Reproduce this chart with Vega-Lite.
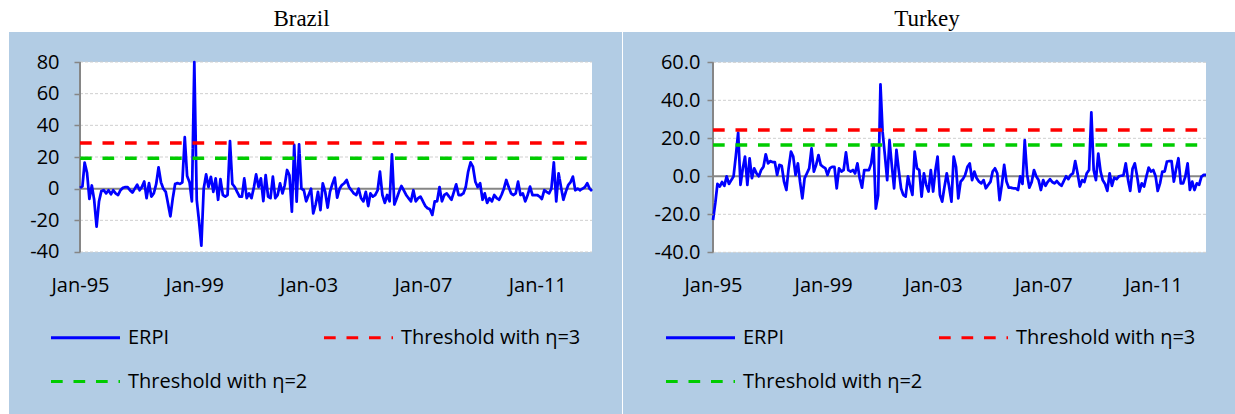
{
"$schema":"https://vega.github.io/schema/vega-lite/v6.json",
"background":"#FFFFFF",
"padding":{"left":9,"top":8,"right":0,"bottom":0},
"spacing":1,
"config":{"view":{"fill":"#B2CCE4","stroke":null},"font":"Open Sans","locale":{"number":{"decimal":".","thousands":",","grouping":[3],"currency":["$",""],"minus":"-"}}},
"resolve":{"scale":{"x":"independent","y":"independent","color":"independent","strokeDash":"independent"},"legend":{"color":"independent","strokeDash":"independent"}},
"datasets":{
"brazil":[
{"date":"1995-01","series":"ERPI","value":0.5},{"date":"1995-02","series":"ERPI","value":1.5},{"date":"1995-03","series":"ERPI","value":16.5},{"date":"1995-04","series":"ERPI","value":10},{"date":"1995-05","series":"ERPI","value":-6.5},{"date":"1995-06","series":"ERPI","value":2},{"date":"1995-07","series":"ERPI","value":-7},{"date":"1995-08","series":"ERPI","value":-24},{"date":"1995-09","series":"ERPI","value":-8},{"date":"1995-10","series":"ERPI","value":-1.5},{"date":"1995-11","series":"ERPI","value":-1},{"date":"1995-12","series":"ERPI","value":-3},
{"date":"1996-01","series":"ERPI","value":-1},{"date":"1996-02","series":"ERPI","value":-3.5},{"date":"1996-03","series":"ERPI","value":-1},{"date":"1996-04","series":"ERPI","value":-3},{"date":"1996-05","series":"ERPI","value":-4},{"date":"1996-06","series":"ERPI","value":-1},{"date":"1996-07","series":"ERPI","value":0.5},{"date":"1996-08","series":"ERPI","value":1},{"date":"1996-09","series":"ERPI","value":1},{"date":"1996-10","series":"ERPI","value":-1},{"date":"1996-11","series":"ERPI","value":-2.5},{"date":"1996-12","series":"ERPI","value":0},
{"date":"1997-01","series":"ERPI","value":2.5},{"date":"1997-02","series":"ERPI","value":-1},{"date":"1997-03","series":"ERPI","value":1},{"date":"1997-04","series":"ERPI","value":4.5},{"date":"1997-05","series":"ERPI","value":-6},{"date":"1997-06","series":"ERPI","value":3.5},{"date":"1997-07","series":"ERPI","value":-5},{"date":"1997-08","series":"ERPI","value":-3},{"date":"1997-09","series":"ERPI","value":3},{"date":"1997-10","series":"ERPI","value":13.5},{"date":"1997-11","series":"ERPI","value":4},{"date":"1997-12","series":"ERPI","value":0},
{"date":"1998-01","series":"ERPI","value":-2},{"date":"1998-02","series":"ERPI","value":-10},{"date":"1998-03","series":"ERPI","value":-17.5},{"date":"1998-04","series":"ERPI","value":-6},{"date":"1998-05","series":"ERPI","value":3},{"date":"1998-06","series":"ERPI","value":3.5},{"date":"1998-07","series":"ERPI","value":3},{"date":"1998-08","series":"ERPI","value":4},{"date":"1998-09","series":"ERPI","value":32.5},{"date":"1998-10","series":"ERPI","value":8},{"date":"1998-11","series":"ERPI","value":4},{"date":"1998-12","series":"ERPI","value":-8},
{"date":"1999-01","series":"ERPI","value":80},{"date":"1999-02","series":"ERPI","value":-7},{"date":"1999-03","series":"ERPI","value":-20},{"date":"1999-04","series":"ERPI","value":-36},{"date":"1999-05","series":"ERPI","value":0},{"date":"1999-06","series":"ERPI","value":9},{"date":"1999-07","series":"ERPI","value":1},{"date":"1999-08","series":"ERPI","value":7.5},{"date":"1999-09","series":"ERPI","value":-2},{"date":"1999-10","series":"ERPI","value":6.5},{"date":"1999-11","series":"ERPI","value":-7},{"date":"1999-12","series":"ERPI","value":6},
{"date":"2000-01","series":"ERPI","value":-4},{"date":"2000-02","series":"ERPI","value":-5},{"date":"2000-03","series":"ERPI","value":-4},{"date":"2000-04","series":"ERPI","value":30},{"date":"2000-05","series":"ERPI","value":3},{"date":"2000-06","series":"ERPI","value":1},{"date":"2000-07","series":"ERPI","value":-2},{"date":"2000-08","series":"ERPI","value":-5},{"date":"2000-09","series":"ERPI","value":-5},{"date":"2000-10","series":"ERPI","value":6.5},{"date":"2000-11","series":"ERPI","value":-6},{"date":"2000-12","series":"ERPI","value":-3},
{"date":"2001-01","series":"ERPI","value":-6},{"date":"2001-02","series":"ERPI","value":1},{"date":"2001-03","series":"ERPI","value":9},{"date":"2001-04","series":"ERPI","value":1},{"date":"2001-05","series":"ERPI","value":6.5},{"date":"2001-06","series":"ERPI","value":-7.8},{"date":"2001-07","series":"ERPI","value":8.6},{"date":"2001-08","series":"ERPI","value":-5},{"date":"2001-09","series":"ERPI","value":-6},{"date":"2001-10","series":"ERPI","value":7.6},{"date":"2001-11","series":"ERPI","value":-6},{"date":"2001-12","series":"ERPI","value":-4},
{"date":"2002-01","series":"ERPI","value":3.4},{"date":"2002-02","series":"ERPI","value":-3},{"date":"2002-03","series":"ERPI","value":2},{"date":"2002-04","series":"ERPI","value":11.8},{"date":"2002-05","series":"ERPI","value":8.5},{"date":"2002-06","series":"ERPI","value":-14.5},{"date":"2002-07","series":"ERPI","value":27.6},{"date":"2002-08","series":"ERPI","value":-8.2},{"date":"2002-09","series":"ERPI","value":28},{"date":"2002-10","series":"ERPI","value":0},{"date":"2002-11","series":"ERPI","value":-1},{"date":"2002-12","series":"ERPI","value":-8},
{"date":"2003-01","series":"ERPI","value":-4},{"date":"2003-02","series":"ERPI","value":0},{"date":"2003-03","series":"ERPI","value":-15.6},{"date":"2003-04","series":"ERPI","value":-10},{"date":"2003-05","series":"ERPI","value":-2},{"date":"2003-06","series":"ERPI","value":-13.5},{"date":"2003-07","series":"ERPI","value":3.4},{"date":"2003-08","series":"ERPI","value":-2},{"date":"2003-09","series":"ERPI","value":-12},{"date":"2003-10","series":"ERPI","value":-2},{"date":"2003-11","series":"ERPI","value":3},{"date":"2003-12","series":"ERPI","value":7},
{"date":"2004-01","series":"ERPI","value":-5.7},{"date":"2004-02","series":"ERPI","value":0},{"date":"2004-03","series":"ERPI","value":2.3},{"date":"2004-04","series":"ERPI","value":3.4},{"date":"2004-05","series":"ERPI","value":5.5},{"date":"2004-06","series":"ERPI","value":1},{"date":"2004-07","series":"ERPI","value":-1},{"date":"2004-08","series":"ERPI","value":-3},{"date":"2004-09","series":"ERPI","value":-4},{"date":"2004-10","series":"ERPI","value":0},{"date":"2004-11","series":"ERPI","value":-6},{"date":"2004-12","series":"ERPI","value":-8},
{"date":"2005-01","series":"ERPI","value":-2},{"date":"2005-02","series":"ERPI","value":-11},{"date":"2005-03","series":"ERPI","value":-3},{"date":"2005-04","series":"ERPI","value":-5},{"date":"2005-05","series":"ERPI","value":-4},{"date":"2005-06","series":"ERPI","value":-1},{"date":"2005-07","series":"ERPI","value":10.7},{"date":"2005-08","series":"ERPI","value":-4},{"date":"2005-09","series":"ERPI","value":-9},{"date":"2005-10","series":"ERPI","value":-4},{"date":"2005-11","series":"ERPI","value":-8},{"date":"2005-12","series":"ERPI","value":21.7},
{"date":"2006-01","series":"ERPI","value":-10},{"date":"2006-02","series":"ERPI","value":-6},{"date":"2006-03","series":"ERPI","value":-2},{"date":"2006-04","series":"ERPI","value":1.7},{"date":"2006-05","series":"ERPI","value":-1},{"date":"2006-06","series":"ERPI","value":-4},{"date":"2006-07","series":"ERPI","value":-6},{"date":"2006-08","series":"ERPI","value":-8},{"date":"2006-09","series":"ERPI","value":-1},{"date":"2006-10","series":"ERPI","value":-8},{"date":"2006-11","series":"ERPI","value":-6},{"date":"2006-12","series":"ERPI","value":-5},
{"date":"2007-01","series":"ERPI","value":-8},{"date":"2007-02","series":"ERPI","value":-11},{"date":"2007-03","series":"ERPI","value":-12.4},{"date":"2007-04","series":"ERPI","value":-13},{"date":"2007-05","series":"ERPI","value":-16.6},{"date":"2007-06","series":"ERPI","value":-8},{"date":"2007-07","series":"ERPI","value":-8},{"date":"2007-08","series":"ERPI","value":1},{"date":"2007-09","series":"ERPI","value":-8},{"date":"2007-10","series":"ERPI","value":-4},{"date":"2007-11","series":"ERPI","value":-3},{"date":"2007-12","series":"ERPI","value":-5},
{"date":"2008-01","series":"ERPI","value":-7},{"date":"2008-02","series":"ERPI","value":-2},{"date":"2008-03","series":"ERPI","value":2.7},{"date":"2008-04","series":"ERPI","value":-4},{"date":"2008-05","series":"ERPI","value":-4},{"date":"2008-06","series":"ERPI","value":-3},{"date":"2008-07","series":"ERPI","value":1},{"date":"2008-08","series":"ERPI","value":10.7},{"date":"2008-09","series":"ERPI","value":16.6},{"date":"2008-10","series":"ERPI","value":13.9},{"date":"2008-11","series":"ERPI","value":4.4},{"date":"2008-12","series":"ERPI","value":1},
{"date":"2009-01","series":"ERPI","value":3.4},{"date":"2009-02","series":"ERPI","value":-7},{"date":"2009-03","series":"ERPI","value":-3},{"date":"2009-04","series":"ERPI","value":-9},{"date":"2009-05","series":"ERPI","value":-6},{"date":"2009-06","series":"ERPI","value":-8},{"date":"2009-07","series":"ERPI","value":-4},{"date":"2009-08","series":"ERPI","value":-6},{"date":"2009-09","series":"ERPI","value":-7},{"date":"2009-10","series":"ERPI","value":-4},{"date":"2009-11","series":"ERPI","value":0},{"date":"2009-12","series":"ERPI","value":5.5},
{"date":"2010-01","series":"ERPI","value":1},{"date":"2010-02","series":"ERPI","value":-3},{"date":"2010-03","series":"ERPI","value":-4},{"date":"2010-04","series":"ERPI","value":-3},{"date":"2010-05","series":"ERPI","value":4.4},{"date":"2010-06","series":"ERPI","value":-4},{"date":"2010-07","series":"ERPI","value":-3},{"date":"2010-08","series":"ERPI","value":-8},{"date":"2010-09","series":"ERPI","value":-4},{"date":"2010-10","series":"ERPI","value":1.3},{"date":"2010-11","series":"ERPI","value":-4},{"date":"2010-12","series":"ERPI","value":-4},
{"date":"2011-01","series":"ERPI","value":-4},{"date":"2011-02","series":"ERPI","value":-5},{"date":"2011-03","series":"ERPI","value":-6.5},{"date":"2011-04","series":"ERPI","value":-1},{"date":"2011-05","series":"ERPI","value":-2},{"date":"2011-06","series":"ERPI","value":-3},{"date":"2011-07","series":"ERPI","value":0},{"date":"2011-08","series":"ERPI","value":16.6},{"date":"2011-09","series":"ERPI","value":-8},{"date":"2011-10","series":"ERPI","value":9.7},{"date":"2011-11","series":"ERPI","value":1},{"date":"2011-12","series":"ERPI","value":-7},
{"date":"2012-01","series":"ERPI","value":-2},{"date":"2012-02","series":"ERPI","value":2.3},{"date":"2012-03","series":"ERPI","value":4},{"date":"2012-04","series":"ERPI","value":7.6},{"date":"2012-05","series":"ERPI","value":-1},{"date":"2012-06","series":"ERPI","value":0},{"date":"2012-07","series":"ERPI","value":-1},{"date":"2012-08","series":"ERPI","value":0},{"date":"2012-09","series":"ERPI","value":1},{"date":"2012-10","series":"ERPI","value":3.4},{"date":"2012-11","series":"ERPI","value":0},{"date":"2012-12","series":"ERPI","value":-1.5}
],
"brazil_thr":[
{"date":"1995-01","series":"Threshold with η=3","value":28.8},{"date":"2012-12","series":"Threshold with η=3","value":28.8},
{"date":"1995-01","series":"Threshold with η=2","value":19.2},{"date":"2012-12","series":"Threshold with η=2","value":19.2}
],
"turkey":[
{"date":"1995-01","series":"ERPI","value":-23},{"date":"1995-02","series":"ERPI","value":-14},{"date":"1995-03","series":"ERPI","value":-4},{"date":"1995-04","series":"ERPI","value":-5.4},{"date":"1995-05","series":"ERPI","value":-3},{"date":"1995-06","series":"ERPI","value":-5},{"date":"1995-07","series":"ERPI","value":0},{"date":"1995-08","series":"ERPI","value":-4},{"date":"1995-09","series":"ERPI","value":-2},{"date":"1995-10","series":"ERPI","value":0},{"date":"1995-11","series":"ERPI","value":11},{"date":"1995-12","series":"ERPI","value":23},
{"date":"1996-01","series":"ERPI","value":-4.5},{"date":"1996-02","series":"ERPI","value":4.2},{"date":"1996-03","series":"ERPI","value":10.4},{"date":"1996-04","series":"ERPI","value":-4.5},{"date":"1996-05","series":"ERPI","value":9.5},{"date":"1996-06","series":"ERPI","value":-1},{"date":"1996-07","series":"ERPI","value":4.2},{"date":"1996-08","series":"ERPI","value":1.5},{"date":"1996-09","series":"ERPI","value":0},{"date":"1996-10","series":"ERPI","value":3.3},{"date":"1996-11","series":"ERPI","value":5},{"date":"1996-12","series":"ERPI","value":11.6},
{"date":"1997-01","series":"ERPI","value":6.8},{"date":"1997-02","series":"ERPI","value":8},{"date":"1997-03","series":"ERPI","value":7.5},{"date":"1997-04","series":"ERPI","value":7.5},{"date":"1997-05","series":"ERPI","value":0.7},{"date":"1997-06","series":"ERPI","value":6},{"date":"1997-07","series":"ERPI","value":5.5},{"date":"1997-08","series":"ERPI","value":-2.8},{"date":"1997-09","series":"ERPI","value":-7.2},{"date":"1997-10","series":"ERPI","value":4.2},{"date":"1997-11","series":"ERPI","value":13},{"date":"1997-12","series":"ERPI","value":10.4},
{"date":"1998-01","series":"ERPI","value":0.7},{"date":"1998-02","series":"ERPI","value":6.8},{"date":"1998-03","series":"ERPI","value":-2.8},{"date":"1998-04","series":"ERPI","value":-11.6},{"date":"1998-05","series":"ERPI","value":-1},{"date":"1998-06","series":"ERPI","value":1.6},{"date":"1998-07","series":"ERPI","value":4.2},{"date":"1998-08","series":"ERPI","value":14.7},{"date":"1998-09","series":"ERPI","value":2.5},{"date":"1998-10","series":"ERPI","value":6},{"date":"1998-11","series":"ERPI","value":11.2},{"date":"1998-12","series":"ERPI","value":6},
{"date":"1999-01","series":"ERPI","value":5},{"date":"1999-02","series":"ERPI","value":4.2},{"date":"1999-03","series":"ERPI","value":0.7},{"date":"1999-04","series":"ERPI","value":4.2},{"date":"1999-05","series":"ERPI","value":5},{"date":"1999-06","series":"ERPI","value":5},{"date":"1999-07","series":"ERPI","value":-6.3},{"date":"1999-08","series":"ERPI","value":4.2},{"date":"1999-09","series":"ERPI","value":2.5},{"date":"1999-10","series":"ERPI","value":3.3},{"date":"1999-11","series":"ERPI","value":12.6},{"date":"1999-12","series":"ERPI","value":3.3},
{"date":"2000-01","series":"ERPI","value":2.5},{"date":"2000-02","series":"ERPI","value":3.3},{"date":"2000-03","series":"ERPI","value":1.5},{"date":"2000-04","series":"ERPI","value":6.8},{"date":"2000-05","series":"ERPI","value":-1},{"date":"2000-06","series":"ERPI","value":-6},{"date":"2000-07","series":"ERPI","value":3.3},{"date":"2000-08","series":"ERPI","value":3.3},{"date":"2000-09","series":"ERPI","value":3.3},{"date":"2000-10","series":"ERPI","value":6.8},{"date":"2000-11","series":"ERPI","value":16.5},{"date":"2000-12","series":"ERPI","value":-17},
{"date":"2001-01","series":"ERPI","value":-10},{"date":"2001-02","series":"ERPI","value":48.4},{"date":"2001-03","series":"ERPI","value":23.5},{"date":"2001-04","series":"ERPI","value":11},{"date":"2001-05","series":"ERPI","value":-2},{"date":"2001-06","series":"ERPI","value":19},{"date":"2001-07","series":"ERPI","value":6},{"date":"2001-08","series":"ERPI","value":-6.3},{"date":"2001-09","series":"ERPI","value":13.9},{"date":"2001-10","series":"ERPI","value":3.5},{"date":"2001-11","series":"ERPI","value":-6.3},{"date":"2001-12","series":"ERPI","value":-9.8},
{"date":"2002-01","series":"ERPI","value":-10.7},{"date":"2002-02","series":"ERPI","value":0},{"date":"2002-03","series":"ERPI","value":-5},{"date":"2002-04","series":"ERPI","value":-9.8},{"date":"2002-05","series":"ERPI","value":13},{"date":"2002-06","series":"ERPI","value":4.2},{"date":"2002-07","series":"ERPI","value":3.3},{"date":"2002-08","series":"ERPI","value":-10.7},{"date":"2002-09","series":"ERPI","value":1.6},{"date":"2002-10","series":"ERPI","value":-4.5},{"date":"2002-11","series":"ERPI","value":-8},{"date":"2002-12","series":"ERPI","value":3.3},
{"date":"2003-01","series":"ERPI","value":-8},{"date":"2003-02","series":"ERPI","value":3.3},{"date":"2003-03","series":"ERPI","value":10.4},{"date":"2003-04","series":"ERPI","value":-9.8},{"date":"2003-05","series":"ERPI","value":-13.3},{"date":"2003-06","series":"ERPI","value":-5.4},{"date":"2003-07","series":"ERPI","value":1.6},{"date":"2003-08","series":"ERPI","value":-5.4},{"date":"2003-09","series":"ERPI","value":-13.3},{"date":"2003-10","series":"ERPI","value":10.4},{"date":"2003-11","series":"ERPI","value":5},{"date":"2003-12","series":"ERPI","value":-11.6},
{"date":"2004-01","series":"ERPI","value":-2.8},{"date":"2004-02","series":"ERPI","value":-1.4},{"date":"2004-03","series":"ERPI","value":0.7},{"date":"2004-04","series":"ERPI","value":5},{"date":"2004-05","series":"ERPI","value":6.8},{"date":"2004-06","series":"ERPI","value":-2},{"date":"2004-07","series":"ERPI","value":2.5},{"date":"2004-08","series":"ERPI","value":-1},{"date":"2004-09","series":"ERPI","value":-2.8},{"date":"2004-10","series":"ERPI","value":-3.7},{"date":"2004-11","series":"ERPI","value":-2},{"date":"2004-12","series":"ERPI","value":-6.3},
{"date":"2005-01","series":"ERPI","value":-4.5},{"date":"2005-02","series":"ERPI","value":-2.8},{"date":"2005-03","series":"ERPI","value":2.5},{"date":"2005-04","series":"ERPI","value":4.2},{"date":"2005-05","series":"ERPI","value":1.6},{"date":"2005-06","series":"ERPI","value":-12.5},{"date":"2005-07","series":"ERPI","value":-4.5},{"date":"2005-08","series":"ERPI","value":6},{"date":"2005-09","series":"ERPI","value":-2.8},{"date":"2005-10","series":"ERPI","value":-6},{"date":"2005-11","series":"ERPI","value":-6},{"date":"2005-12","series":"ERPI","value":-6.3},
{"date":"2006-01","series":"ERPI","value":-6.3},{"date":"2006-02","series":"ERPI","value":-7.2},{"date":"2006-03","series":"ERPI","value":0},{"date":"2006-04","series":"ERPI","value":-4},{"date":"2006-05","series":"ERPI","value":19},{"date":"2006-06","series":"ERPI","value":1},{"date":"2006-07","series":"ERPI","value":-6},{"date":"2006-08","series":"ERPI","value":-3},{"date":"2006-09","series":"ERPI","value":3.3},{"date":"2006-10","series":"ERPI","value":0},{"date":"2006-11","series":"ERPI","value":-2},{"date":"2006-12","series":"ERPI","value":-7.2},
{"date":"2007-01","series":"ERPI","value":-2},{"date":"2007-02","series":"ERPI","value":-5},{"date":"2007-03","series":"ERPI","value":-3},{"date":"2007-04","series":"ERPI","value":-1.5},{"date":"2007-05","series":"ERPI","value":-3},{"date":"2007-06","series":"ERPI","value":-3.7},{"date":"2007-07","series":"ERPI","value":-2.5},{"date":"2007-08","series":"ERPI","value":-4},{"date":"2007-09","series":"ERPI","value":-5},{"date":"2007-10","series":"ERPI","value":-2.5},{"date":"2007-11","series":"ERPI","value":0},{"date":"2007-12","series":"ERPI","value":-1.5},
{"date":"2008-01","series":"ERPI","value":0.7},{"date":"2008-02","series":"ERPI","value":1.6},{"date":"2008-03","series":"ERPI","value":8},{"date":"2008-04","series":"ERPI","value":1.6},{"date":"2008-05","series":"ERPI","value":-5.4},{"date":"2008-06","series":"ERPI","value":-2},{"date":"2008-07","series":"ERPI","value":-3},{"date":"2008-08","series":"ERPI","value":1.6},{"date":"2008-09","series":"ERPI","value":3.3},{"date":"2008-10","series":"ERPI","value":33.7},{"date":"2008-11","series":"ERPI","value":3.3},{"date":"2008-12","series":"ERPI","value":-2},
{"date":"2009-01","series":"ERPI","value":12},{"date":"2009-02","series":"ERPI","value":2.5},{"date":"2009-03","series":"ERPI","value":-2},{"date":"2009-04","series":"ERPI","value":-4},{"date":"2009-05","series":"ERPI","value":-7.7},{"date":"2009-06","series":"ERPI","value":1.6},{"date":"2009-07","series":"ERPI","value":-5},{"date":"2009-08","series":"ERPI","value":-0.7},{"date":"2009-09","series":"ERPI","value":-1.5},{"date":"2009-10","series":"ERPI","value":0},{"date":"2009-11","series":"ERPI","value":0.3},{"date":"2009-12","series":"ERPI","value":0.5},
{"date":"2010-01","series":"ERPI","value":6.8},{"date":"2010-02","series":"ERPI","value":-2},{"date":"2010-03","series":"ERPI","value":-7.7},{"date":"2010-04","series":"ERPI","value":4},{"date":"2010-05","series":"ERPI","value":6.8},{"date":"2010-06","series":"ERPI","value":0},{"date":"2010-07","series":"ERPI","value":-8},{"date":"2010-08","series":"ERPI","value":-3.7},{"date":"2010-09","series":"ERPI","value":-5.4},{"date":"2010-10","series":"ERPI","value":-0.2},{"date":"2010-11","series":"ERPI","value":4.6},{"date":"2010-12","series":"ERPI","value":2.5},
{"date":"2011-01","series":"ERPI","value":3.3},{"date":"2011-02","series":"ERPI","value":0},{"date":"2011-03","series":"ERPI","value":-7.7},{"date":"2011-04","series":"ERPI","value":-3.7},{"date":"2011-05","series":"ERPI","value":2.5},{"date":"2011-06","series":"ERPI","value":2.5},{"date":"2011-07","series":"ERPI","value":7.7},{"date":"2011-08","series":"ERPI","value":8},{"date":"2011-09","series":"ERPI","value":8},{"date":"2011-10","series":"ERPI","value":-2.8},{"date":"2011-11","series":"ERPI","value":4},{"date":"2011-12","series":"ERPI","value":9.5},
{"date":"2012-01","series":"ERPI","value":-3.7},{"date":"2012-02","series":"ERPI","value":-3.7},{"date":"2012-03","series":"ERPI","value":-0.2},{"date":"2012-04","series":"ERPI","value":6.8},{"date":"2012-05","series":"ERPI","value":-7.2},{"date":"2012-06","series":"ERPI","value":-2.8},{"date":"2012-07","series":"ERPI","value":-7.2},{"date":"2012-08","series":"ERPI","value":-3.7},{"date":"2012-09","series":"ERPI","value":-4.5},{"date":"2012-10","series":"ERPI","value":-0.2},{"date":"2012-11","series":"ERPI","value":0.7},{"date":"2012-12","series":"ERPI","value":0.7}
],
"turkey_thr":[
{"date":"1995-01","series":"Threshold with η=3","value":24.4},{"date":"2012-12","series":"Threshold with η=3","value":24.4},
{"date":"1995-01","series":"Threshold with η=2","value":16.5},{"date":"2012-12","series":"Threshold with η=2","value":16.5}
]
},
"hconcat":[
{
"width":613,"height":382,
"title":{"text":"Brazil","font":"Liberation Serif","fontSize":23,"fontWeight":"normal","color":"#000000","offset":1,"dx":-14,"anchor":"middle"},
"layer":[
{"data":{"values":[{}]},"mark":{"type":"rect","fill":"#FFFFFF"},
"encoding":{"x":{"datum":{"year":1995,"month":1,"date":1,"utc":true},"type":"temporal","scale":{"type":"utc","domain":[{"year":1992,"month":7,"date":7,"hours":12,"utc":true},{"year":2013,"month":12,"date":19,"hours":10,"utc":true}]},
"axis":{"orient":"bottom","values":[{"year":1995,"month":1,"date":1,"utc":true},{"year":1999,"month":1,"date":1,"utc":true},{"year":2003,"month":1,"date":1,"utc":true},{"year":2007,"month":1,"date":1,"utc":true},{"year":2011,"month":1,"date":1,"utc":true}],"labelExpr":"utcFormat(datum.value, '%b-%y')","offset":-141,"zindex":1,"domain":false,"ticks":false,"grid":false,"labelPadding":2,"labelFlush":false,"labelOverlap":false,"labelAngle":0,"labelFont":"Open Sans","labelFontSize":20,"labelColor":"#000000","title":null}},
"x2":{"datum":{"year":2012,"month":12,"date":1,"utc":true}},
"y":{"datum":-40,"type":"quantitative","scale":{"domain":[-142.32,98.95],"nice":false,"zero":false},
"axis":{"values":[-40,-20,0,20,40,60,80],"format":"d","offset":-71,"zindex":1,"domain":false,"grid":false,"ticks":true,"tickSize":6,"tickColor":"#868686","tickWidth":1.5,"labelPadding":15,"labelOverlap":false,"labelFont":"Open Sans","labelFontSize":20,"labelColor":"#000000","title":null}},"y2":{"datum":80}}},
{"data":{"values":[{"tick":-40},{"tick":-20},{"tick":20},{"tick":40},{"tick":60},{"tick":80}]},"mark":{"type":"rule","stroke":"#CFCFCF","strokeWidth":1,"strokeDash":[3,2]},
"encoding":{"x":{"datum":{"year":1995,"month":1,"date":1,"utc":true},"type":"temporal","scale":{"type":"utc","domain":[{"year":1992,"month":7,"date":7,"hours":12,"utc":true},{"year":2013,"month":12,"date":19,"hours":10,"utc":true}]},
"axis":{"orient":"bottom","values":[{"year":1995,"month":1,"date":1,"utc":true},{"year":1999,"month":1,"date":1,"utc":true},{"year":2003,"month":1,"date":1,"utc":true},{"year":2007,"month":1,"date":1,"utc":true},{"year":2011,"month":1,"date":1,"utc":true}],"labelExpr":"utcFormat(datum.value, '%b-%y')","offset":-141,"zindex":1,"domain":false,"ticks":false,"grid":false,"labelPadding":2,"labelFlush":false,"labelOverlap":false,"labelAngle":0,"labelFont":"Open Sans","labelFontSize":20,"labelColor":"#000000","title":null}},
"x2":{"datum":{"year":2012,"month":12,"date":1,"utc":true}},
"y":{"field":"tick","type":"quantitative","scale":{"domain":[-142.32,98.95],"nice":false,"zero":false},
"axis":{"values":[-40,-20,0,20,40,60,80],"format":"d","offset":-71,"zindex":1,"domain":false,"grid":false,"ticks":true,"tickSize":6,"tickColor":"#868686","tickWidth":1.5,"labelPadding":15,"labelOverlap":false,"labelFont":"Open Sans","labelFontSize":20,"labelColor":"#000000","title":null}}}},
{"data":{"values":[{}]},"mark":{"type":"rule","stroke":"#868686","strokeWidth":2},
"encoding":{"x":{"datum":{"year":1995,"month":1,"date":1,"utc":true},"type":"temporal","scale":{"type":"utc","domain":[{"year":1992,"month":7,"date":7,"hours":12,"utc":true},{"year":2013,"month":12,"date":19,"hours":10,"utc":true}]},
"axis":{"orient":"bottom","values":[{"year":1995,"month":1,"date":1,"utc":true},{"year":1999,"month":1,"date":1,"utc":true},{"year":2003,"month":1,"date":1,"utc":true},{"year":2007,"month":1,"date":1,"utc":true},{"year":2011,"month":1,"date":1,"utc":true}],"labelExpr":"utcFormat(datum.value, '%b-%y')","offset":-141,"zindex":1,"domain":false,"ticks":false,"grid":false,"labelPadding":2,"labelFlush":false,"labelOverlap":false,"labelAngle":0,"labelFont":"Open Sans","labelFontSize":20,"labelColor":"#000000","title":null}},
"x2":{"datum":{"year":2012,"month":12,"date":1,"utc":true}},
"y":{"datum":0,"type":"quantitative","scale":{"domain":[-142.32,98.95],"nice":false,"zero":false},
"axis":{"values":[-40,-20,0,20,40,60,80],"format":"d","offset":-71,"zindex":1,"domain":false,"grid":false,"ticks":true,"tickSize":6,"tickColor":"#868686","tickWidth":1.5,"labelPadding":15,"labelOverlap":false,"labelFont":"Open Sans","labelFontSize":20,"labelColor":"#000000","title":null}}}},
{"data":{"values":[{}]},"mark":{"type":"rule","stroke":"#868686","strokeWidth":2},
"encoding":{"x":{"datum":{"year":1995,"month":1,"date":1,"utc":true},"type":"temporal","scale":{"type":"utc","domain":[{"year":1992,"month":7,"date":7,"hours":12,"utc":true},{"year":2013,"month":12,"date":19,"hours":10,"utc":true}]},
"axis":{"orient":"bottom","values":[{"year":1995,"month":1,"date":1,"utc":true},{"year":1999,"month":1,"date":1,"utc":true},{"year":2003,"month":1,"date":1,"utc":true},{"year":2007,"month":1,"date":1,"utc":true},{"year":2011,"month":1,"date":1,"utc":true}],"labelExpr":"utcFormat(datum.value, '%b-%y')","offset":-141,"zindex":1,"domain":false,"ticks":false,"grid":false,"labelPadding":2,"labelFlush":false,"labelOverlap":false,"labelAngle":0,"labelFont":"Open Sans","labelFontSize":20,"labelColor":"#000000","title":null}},
"y":{"datum":-40,"type":"quantitative","scale":{"domain":[-142.32,98.95],"nice":false,"zero":false},
"axis":{"values":[-40,-20,0,20,40,60,80],"format":"d","offset":-71,"zindex":1,"domain":false,"grid":false,"ticks":true,"tickSize":6,"tickColor":"#868686","tickWidth":1.5,"labelPadding":15,"labelOverlap":false,"labelFont":"Open Sans","labelFontSize":20,"labelColor":"#000000","title":null}},"y2":{"datum":80}}},
{"data":{"name":"brazil"},"mark":{"type":"line","strokeWidth":2.75,"strokeJoin":"round"},
"encoding":{
"x":{"field":"date","type":"temporal","scale":{"type":"utc","domain":[{"year":1992,"month":7,"date":7,"hours":12,"utc":true},{"year":2013,"month":12,"date":19,"hours":10,"utc":true}]},
"axis":{"orient":"bottom","values":[{"year":1995,"month":1,"date":1,"utc":true},{"year":1999,"month":1,"date":1,"utc":true},{"year":2003,"month":1,"date":1,"utc":true},{"year":2007,"month":1,"date":1,"utc":true},{"year":2011,"month":1,"date":1,"utc":true}],"labelExpr":"utcFormat(datum.value, '%b-%y')","offset":-141,"zindex":1,"domain":false,"ticks":false,"grid":false,"labelPadding":2,"labelFlush":false,"labelOverlap":false,"labelAngle":0,"labelFont":"Open Sans","labelFontSize":20,"labelColor":"#000000","title":null}},
"y":{"field":"value","type":"quantitative","scale":{"domain":[-142.32,98.95],"nice":false,"zero":false},
"axis":{"values":[-40,-20,0,20,40,60,80],"format":"d","offset":-71,"zindex":1,"domain":false,"grid":false,"ticks":true,"tickSize":6,"tickColor":"#868686","tickWidth":1.5,"labelPadding":15,"labelOverlap":false,"labelFont":"Open Sans","labelFontSize":20,"labelColor":"#000000","title":null}},
"color":{"field":"series","type":"nominal","scale":{"domain":["ERPI","Threshold with η=3","Threshold with η=2"],"range":["#0000FF","#FF0000","#00CC00"]},
"legend":{"title":null,"values":["ERPI","Threshold with η=3","Threshold with η=2"],"orient":"none","direction":"horizontal","legendX":61,"legendY":290,"columns":2,"columnPadding":9,"rowPadding":18,"symbolType":"M-2.5,0H2.5","symbolSize":762,"symbolStrokeWidth":3,"labelFont":"Open Sans","labelFontSize":20,"labelColor":"#000000","labelOffset":27,"labelLimit":400,"padding":0}},
"strokeDash":{"field":"series","type":"nominal","scale":{"domain":["ERPI","Threshold with η=3","Threshold with η=2"],"range":[[1,0],[11.7,10.8],[11.7,10.8]]},
"legend":{"title":null,"values":["ERPI","Threshold with η=3","Threshold with η=2"],"orient":"none","direction":"horizontal","legendX":61,"legendY":290,"columns":2,"columnPadding":9,"rowPadding":18,"symbolType":"M-2.5,0H2.5","symbolSize":762,"symbolStrokeWidth":3,"labelFont":"Open Sans","labelFontSize":20,"labelColor":"#000000","labelOffset":27,"labelLimit":400,"padding":0}}}},
{"data":{"name":"brazil_thr"},"mark":{"type":"line","strokeWidth":3.5,"strokeCap":"butt"},
"encoding":{
"x":{"field":"date","type":"temporal","scale":{"type":"utc","domain":[{"year":1992,"month":7,"date":7,"hours":12,"utc":true},{"year":2013,"month":12,"date":19,"hours":10,"utc":true}]},
"axis":{"orient":"bottom","values":[{"year":1995,"month":1,"date":1,"utc":true},{"year":1999,"month":1,"date":1,"utc":true},{"year":2003,"month":1,"date":1,"utc":true},{"year":2007,"month":1,"date":1,"utc":true},{"year":2011,"month":1,"date":1,"utc":true}],"labelExpr":"utcFormat(datum.value, '%b-%y')","offset":-141,"zindex":1,"domain":false,"ticks":false,"grid":false,"labelPadding":2,"labelFlush":false,"labelOverlap":false,"labelAngle":0,"labelFont":"Open Sans","labelFontSize":20,"labelColor":"#000000","title":null}},
"y":{"field":"value","type":"quantitative","scale":{"domain":[-142.32,98.95],"nice":false,"zero":false},
"axis":{"values":[-40,-20,0,20,40,60,80],"format":"d","offset":-71,"zindex":1,"domain":false,"grid":false,"ticks":true,"tickSize":6,"tickColor":"#868686","tickWidth":1.5,"labelPadding":15,"labelOverlap":false,"labelFont":"Open Sans","labelFontSize":20,"labelColor":"#000000","title":null}},
"color":{"field":"series","type":"nominal"},
"strokeDash":{"field":"series","type":"nominal"}}}
]
},
{
"width":612,"height":382,
"title":{"text":"Turkey","font":"Liberation Serif","fontSize":23,"fontWeight":"normal","color":"#000000","offset":1,"dx":-2,"anchor":"middle"},
"layer":[
{"data":{"values":[{}]},"mark":{"type":"rect","fill":"#FFFFFF"},
"encoding":{"x":{"datum":{"year":1995,"month":1,"date":1,"utc":true},"type":"temporal","scale":{"type":"utc","domain":[{"year":1991,"month":9,"date":24,"hours":10,"utc":true},{"year":2013,"month":12,"date":20,"hours":22,"utc":true}]},
"axis":{"orient":"bottom","values":[{"year":1995,"month":1,"date":1,"utc":true},{"year":1999,"month":1,"date":1,"utc":true},{"year":2003,"month":1,"date":1,"utc":true},{"year":2007,"month":1,"date":1,"utc":true},{"year":2011,"month":1,"date":1,"utc":true}],"labelExpr":"utcFormat(datum.value, '%b-%y')","offset":-141,"zindex":1,"domain":false,"ticks":false,"grid":false,"labelPadding":2,"labelFlush":false,"labelOverlap":false,"labelAngle":0,"labelFont":"Open Sans","labelFontSize":20,"labelColor":"#000000","title":null}},
"x2":{"datum":{"year":2012,"month":12,"date":1,"utc":true}},
"y":{"datum":-40,"type":"quantitative","scale":{"domain":[-125.1,75.95],"nice":false,"zero":false},
"axis":{"values":[-40,-20,0,20,40,60],"format":".1f","offset":-90,"zindex":1,"domain":false,"grid":false,"ticks":true,"tickSize":6,"tickColor":"#868686","tickWidth":1.5,"labelPadding":7,"labelOverlap":false,"labelFont":"Open Sans","labelFontSize":20,"labelColor":"#000000","title":null}},"y2":{"datum":60}}},
{"data":{"values":[{"tick":-40},{"tick":-20},{"tick":20},{"tick":40},{"tick":60}]},"mark":{"type":"rule","stroke":"#CFCFCF","strokeWidth":1,"strokeDash":[3,2]},
"encoding":{"x":{"datum":{"year":1995,"month":1,"date":1,"utc":true},"type":"temporal","scale":{"type":"utc","domain":[{"year":1991,"month":9,"date":24,"hours":10,"utc":true},{"year":2013,"month":12,"date":20,"hours":22,"utc":true}]},
"axis":{"orient":"bottom","values":[{"year":1995,"month":1,"date":1,"utc":true},{"year":1999,"month":1,"date":1,"utc":true},{"year":2003,"month":1,"date":1,"utc":true},{"year":2007,"month":1,"date":1,"utc":true},{"year":2011,"month":1,"date":1,"utc":true}],"labelExpr":"utcFormat(datum.value, '%b-%y')","offset":-141,"zindex":1,"domain":false,"ticks":false,"grid":false,"labelPadding":2,"labelFlush":false,"labelOverlap":false,"labelAngle":0,"labelFont":"Open Sans","labelFontSize":20,"labelColor":"#000000","title":null}},
"x2":{"datum":{"year":2012,"month":12,"date":1,"utc":true}},
"y":{"field":"tick","type":"quantitative","scale":{"domain":[-125.1,75.95],"nice":false,"zero":false},
"axis":{"values":[-40,-20,0,20,40,60],"format":".1f","offset":-90,"zindex":1,"domain":false,"grid":false,"ticks":true,"tickSize":6,"tickColor":"#868686","tickWidth":1.5,"labelPadding":7,"labelOverlap":false,"labelFont":"Open Sans","labelFontSize":20,"labelColor":"#000000","title":null}}}},
{"data":{"values":[{}]},"mark":{"type":"rule","stroke":"#868686","strokeWidth":2},
"encoding":{"x":{"datum":{"year":1995,"month":1,"date":1,"utc":true},"type":"temporal","scale":{"type":"utc","domain":[{"year":1991,"month":9,"date":24,"hours":10,"utc":true},{"year":2013,"month":12,"date":20,"hours":22,"utc":true}]},
"axis":{"orient":"bottom","values":[{"year":1995,"month":1,"date":1,"utc":true},{"year":1999,"month":1,"date":1,"utc":true},{"year":2003,"month":1,"date":1,"utc":true},{"year":2007,"month":1,"date":1,"utc":true},{"year":2011,"month":1,"date":1,"utc":true}],"labelExpr":"utcFormat(datum.value, '%b-%y')","offset":-141,"zindex":1,"domain":false,"ticks":false,"grid":false,"labelPadding":2,"labelFlush":false,"labelOverlap":false,"labelAngle":0,"labelFont":"Open Sans","labelFontSize":20,"labelColor":"#000000","title":null}},
"x2":{"datum":{"year":2012,"month":12,"date":1,"utc":true}},
"y":{"datum":0,"type":"quantitative","scale":{"domain":[-125.1,75.95],"nice":false,"zero":false},
"axis":{"values":[-40,-20,0,20,40,60],"format":".1f","offset":-90,"zindex":1,"domain":false,"grid":false,"ticks":true,"tickSize":6,"tickColor":"#868686","tickWidth":1.5,"labelPadding":7,"labelOverlap":false,"labelFont":"Open Sans","labelFontSize":20,"labelColor":"#000000","title":null}}}},
{"data":{"values":[{}]},"mark":{"type":"rule","stroke":"#868686","strokeWidth":2},
"encoding":{"x":{"datum":{"year":1995,"month":1,"date":1,"utc":true},"type":"temporal","scale":{"type":"utc","domain":[{"year":1991,"month":9,"date":24,"hours":10,"utc":true},{"year":2013,"month":12,"date":20,"hours":22,"utc":true}]},
"axis":{"orient":"bottom","values":[{"year":1995,"month":1,"date":1,"utc":true},{"year":1999,"month":1,"date":1,"utc":true},{"year":2003,"month":1,"date":1,"utc":true},{"year":2007,"month":1,"date":1,"utc":true},{"year":2011,"month":1,"date":1,"utc":true}],"labelExpr":"utcFormat(datum.value, '%b-%y')","offset":-141,"zindex":1,"domain":false,"ticks":false,"grid":false,"labelPadding":2,"labelFlush":false,"labelOverlap":false,"labelAngle":0,"labelFont":"Open Sans","labelFontSize":20,"labelColor":"#000000","title":null}},
"y":{"datum":-40,"type":"quantitative","scale":{"domain":[-125.1,75.95],"nice":false,"zero":false},
"axis":{"values":[-40,-20,0,20,40,60],"format":".1f","offset":-90,"zindex":1,"domain":false,"grid":false,"ticks":true,"tickSize":6,"tickColor":"#868686","tickWidth":1.5,"labelPadding":7,"labelOverlap":false,"labelFont":"Open Sans","labelFontSize":20,"labelColor":"#000000","title":null}},"y2":{"datum":60}}},
{"data":{"name":"turkey"},"mark":{"type":"line","strokeWidth":2.75,"strokeJoin":"round"},
"encoding":{
"x":{"field":"date","type":"temporal","scale":{"type":"utc","domain":[{"year":1991,"month":9,"date":24,"hours":10,"utc":true},{"year":2013,"month":12,"date":20,"hours":22,"utc":true}]},
"axis":{"orient":"bottom","values":[{"year":1995,"month":1,"date":1,"utc":true},{"year":1999,"month":1,"date":1,"utc":true},{"year":2003,"month":1,"date":1,"utc":true},{"year":2007,"month":1,"date":1,"utc":true},{"year":2011,"month":1,"date":1,"utc":true}],"labelExpr":"utcFormat(datum.value, '%b-%y')","offset":-141,"zindex":1,"domain":false,"ticks":false,"grid":false,"labelPadding":2,"labelFlush":false,"labelOverlap":false,"labelAngle":0,"labelFont":"Open Sans","labelFontSize":20,"labelColor":"#000000","title":null}},
"y":{"field":"value","type":"quantitative","scale":{"domain":[-125.1,75.95],"nice":false,"zero":false},
"axis":{"values":[-40,-20,0,20,40,60],"format":".1f","offset":-90,"zindex":1,"domain":false,"grid":false,"ticks":true,"tickSize":6,"tickColor":"#868686","tickWidth":1.5,"labelPadding":7,"labelOverlap":false,"labelFont":"Open Sans","labelFontSize":20,"labelColor":"#000000","title":null}},
"color":{"field":"series","type":"nominal","scale":{"domain":["ERPI","Threshold with η=3","Threshold with η=2"],"range":["#0000FF","#FF0000","#00CC00"]},
"legend":{"title":null,"values":["ERPI","Threshold with η=3","Threshold with η=2"],"orient":"none","direction":"horizontal","legendX":62,"legendY":290,"columns":2,"columnPadding":9,"rowPadding":18,"symbolType":"M-2.5,0H2.5","symbolSize":762,"symbolStrokeWidth":3,"labelFont":"Open Sans","labelFontSize":20,"labelColor":"#000000","labelOffset":27,"labelLimit":400,"padding":0}},
"strokeDash":{"field":"series","type":"nominal","scale":{"domain":["ERPI","Threshold with η=3","Threshold with η=2"],"range":[[1,0],[11.7,10.8],[11.7,10.8]]},
"legend":{"title":null,"values":["ERPI","Threshold with η=3","Threshold with η=2"],"orient":"none","direction":"horizontal","legendX":62,"legendY":290,"columns":2,"columnPadding":9,"rowPadding":18,"symbolType":"M-2.5,0H2.5","symbolSize":762,"symbolStrokeWidth":3,"labelFont":"Open Sans","labelFontSize":20,"labelColor":"#000000","labelOffset":27,"labelLimit":400,"padding":0}}}},
{"data":{"name":"turkey_thr"},"mark":{"type":"line","strokeWidth":3.5,"strokeCap":"butt"},
"encoding":{
"x":{"field":"date","type":"temporal","scale":{"type":"utc","domain":[{"year":1991,"month":9,"date":24,"hours":10,"utc":true},{"year":2013,"month":12,"date":20,"hours":22,"utc":true}]},
"axis":{"orient":"bottom","values":[{"year":1995,"month":1,"date":1,"utc":true},{"year":1999,"month":1,"date":1,"utc":true},{"year":2003,"month":1,"date":1,"utc":true},{"year":2007,"month":1,"date":1,"utc":true},{"year":2011,"month":1,"date":1,"utc":true}],"labelExpr":"utcFormat(datum.value, '%b-%y')","offset":-141,"zindex":1,"domain":false,"ticks":false,"grid":false,"labelPadding":2,"labelFlush":false,"labelOverlap":false,"labelAngle":0,"labelFont":"Open Sans","labelFontSize":20,"labelColor":"#000000","title":null}},
"y":{"field":"value","type":"quantitative","scale":{"domain":[-125.1,75.95],"nice":false,"zero":false},
"axis":{"values":[-40,-20,0,20,40,60],"format":".1f","offset":-90,"zindex":1,"domain":false,"grid":false,"ticks":true,"tickSize":6,"tickColor":"#868686","tickWidth":1.5,"labelPadding":7,"labelOverlap":false,"labelFont":"Open Sans","labelFontSize":20,"labelColor":"#000000","title":null}},
"color":{"field":"series","type":"nominal"},
"strokeDash":{"field":"series","type":"nominal"}}}
]
}
]
}
